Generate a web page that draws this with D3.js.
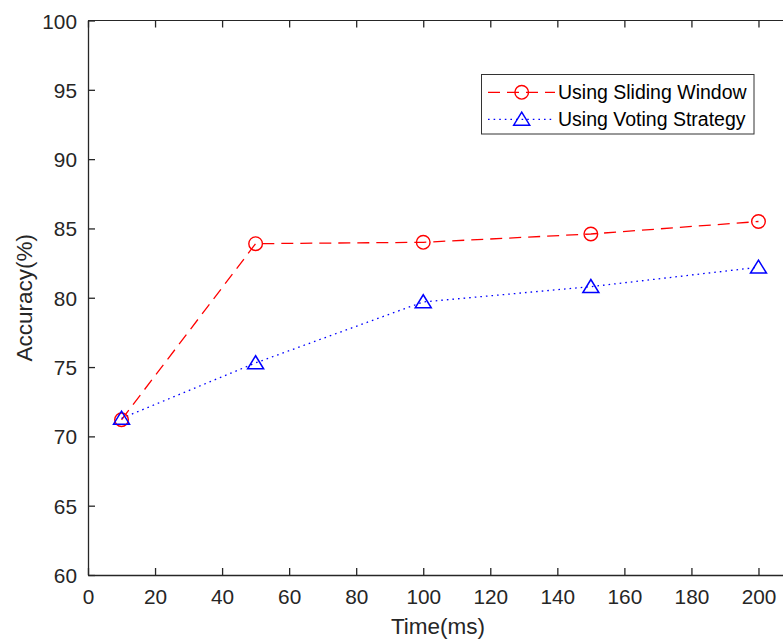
<!DOCTYPE html>
<html>
<head>
<meta charset="utf-8">
<script src="https://cdn.jsdelivr.net/npm/d3@7"></script>
<style>
html,body{margin:0;padding:0;background:#fff;}
svg{display:block;font-family:Arial,"Liberation Sans",Helvetica,sans-serif;}
</style>
</head>
<body>
<svg id="chart" width="783" height="641"></svg>
<script>
const times = [10, 50, 100, 150, 200];
const slidingWindow = [71.2, 83.9, 84.0, 84.6, 85.5];
const votingStrategy = [71.3, 75.3, 79.7, 80.8, 82.2];
const xTicks = [0, 20, 40, 60, 80, 100, 120, 140, 160, 180, 200];
const yTicks = [60, 65, 70, 75, 80, 85, 90, 95, 100];
const seriesNames = ["Using Sliding Window", "Using Voting Strategy"];

const svg = d3.select("#chart");
const L = 88, T = 20.5, B = 575, R = 792;
const x = d3.scaleLinear().domain([0, 210]).range([L, R]);
const y = d3.scaleLinear().domain([60, 100]).range([B, T]);
const axisColor = "#262626";

const g = svg.append("g");
g.append("line").attr("x1", L).attr("x2", R).attr("y1", T).attr("y2", T)
  .attr("stroke", axisColor).attr("stroke-width", 1);
g.append("line").attr("x1", R).attr("x2", R).attr("y1", T).attr("y2", B)
  .attr("stroke", axisColor).attr("stroke-width", 1);

const xAxis = d3.axisBottom(x).tickValues(xTicks).tickSizeInner(-7).tickSizeOuter(0).tickPadding(14);
const gx = svg.append("g").attr("transform", `translate(0,${B})`).call(xAxis);
const xTop = d3.axisTop(x).tickValues(xTicks).tickSizeInner(-7).tickSizeOuter(0).tickFormat("");
const gxt = svg.append("g").attr("transform", `translate(0,${T})`).call(xTop);
gxt.select(".domain").remove();
const yAxis = d3.axisLeft(y).tickValues(yTicks).tickSizeInner(-7).tickSizeOuter(0).tickPadding(11);
const gy = svg.append("g").attr("transform", `translate(${L},0)`).call(yAxis);

[gx, gy, gxt].forEach(a => {
  a.selectAll(".domain").attr("stroke", axisColor).attr("stroke-width", 1.3);
  a.selectAll(".tick line").attr("stroke", axisColor).attr("stroke-width", 1.3);
  a.selectAll(".tick text").attr("fill", axisColor).attr("font-size", 20.8)
    .attr("font-family", "Arial, 'Liberation Sans', sans-serif");
});
gx.selectAll(".tick text").attr("dy", "0.71em");
gy.selectAll(".tick text").attr("dy", "0.36em");

svg.append("text").attr("x", 438).attr("y", 634).attr("text-anchor", "middle")
  .attr("font-size", 22.5).attr("fill", axisColor).text("Time(ms)");
svg.append("text").attr("transform", `translate(32,${(T + B) / 2}) rotate(-90)`)
  .attr("text-anchor", "middle").attr("font-size", 22.5).attr("fill", axisColor).text("Accuracy(%)");

const line = d3.line().x(d => x(d[0])).y(d => y(d[1]));
const sData = times.map((t, i) => [t, slidingWindow[i]]);
const vData = times.map((t, i) => [t, votingStrategy[i]]);

const red = "#ff0000", blue = "#0000ff";
const triPath = (cx, cy) => {
  const w = 8, h = 13;
  return `M${cx},${cy - h * 0.55}L${cx + w},${cy + h * 0.45}L${cx - w},${cy + h * 0.45}Z`;
};

svg.append("path").datum(sData).attr("d", line).attr("fill", "none")
  .attr("stroke", red).attr("stroke-width", 1.3).attr("stroke-dasharray", "12,7");
svg.append("path").datum(vData).attr("d", line).attr("fill", "none")
  .attr("stroke", blue).attr("stroke-width", 1.3).attr("stroke-dasharray", "1.6,4");

svg.selectAll("circle.s").data(sData).enter().append("circle")
  .attr("cx", d => x(d[0])).attr("cy", d => y(d[1])).attr("r", 6.8)
  .attr("fill", "none").attr("stroke", red).attr("stroke-width", 1.4);
svg.selectAll("path.v").data(vData).enter().append("path")
  .attr("d", d => triPath(x(d[0]), y(d[1])))
  .attr("fill", "none").attr("stroke", blue).attr("stroke-width", 1.5);

const lg = svg.append("g");
lg.append("rect").attr("x", 481.5).attr("y", 74.5).attr("width", 272.5).attr("height", 59.5)
  .attr("fill", "#fff").attr("stroke", "#333").attr("stroke-width", 1);
const rows = [
  {name: seriesNames[0], color: red, dash: "12,7", y: 92.3, marker: "circle"},
  {name: seriesNames[1], color: blue, dash: "1.6,4", y: 119.3, marker: "tri"}
];
rows.forEach(r => {
  lg.append("line").attr("x1", 488).attr("x2", 555).attr("y1", r.y).attr("y2", r.y)
    .attr("stroke", r.color).attr("stroke-width", 1.3).attr("stroke-dasharray", r.dash);
  if (r.marker === "circle") {
    lg.append("circle").attr("cx", 521.7).attr("cy", r.y).attr("r", 6.8)
      .attr("fill", "none").attr("stroke", r.color).attr("stroke-width", 1.4);
  } else {
    lg.append("path").attr("d", triPath(521.7, r.y)).attr("fill", "none")
      .attr("stroke", r.color).attr("stroke-width", 1.5);
  }
  lg.append("text").attr("x", 558).attr("y", r.y).attr("dy", "0.36em")
    .attr("font-size", 19.5).attr("fill", "#000").text(r.name);
});
</script>
</body>
</html>
